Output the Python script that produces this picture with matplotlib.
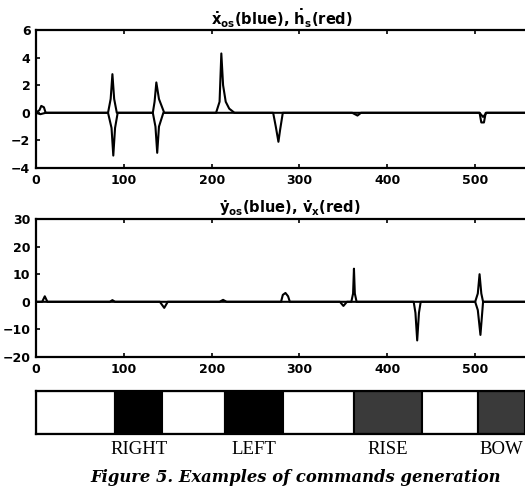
import numpy as np
import matplotlib
matplotlib.use('Agg')
import matplotlib.pyplot as plt
import matplotlib.transforms as mtransforms

# top panel: x_os dot (blue) and h_s dot (red), breakpoints
t_xos = [0, 4, 6, 9, 11, 82, 85, 87, 89, 92, 133, 135, 137, 140, 146, 205, 209, 211, 213, 216, 220, 226,
         360, 366, 370, 505, 507, 510, 512, 600]
xos = [0, 0.2, 0.5, 0.4, 0, 0, 1.0, 2.8, 1.0, 0, 0, 0.8, 2.2, 1.0, 0, 0, 0.8, 4.3, 2.0, 0.8, 0.3, 0,
       0, -0.2, 0, 0, -0.7, -0.7, 0, 0]
t_hs = [0, 5, 11, 82, 86, 88, 90, 93, 133, 136, 138, 140, 145, 270, 273, 276, 278, 281, 505, 509, 513, 600]
hs = [0, -0.1, 0, 0, -1.1, -3.1, -1.1, 0, 0, -1.0, -2.9, -1.0, 0, 0, -1.0, -2.1, -1.2, 0, 0, -0.3, 0, 0]

# bottom panel: y_os dot (blue) and v_x dot (red)
t_yos = [0, 7, 10, 13, 84, 87, 90, 141, 146, 150, 209, 213, 217, 279, 281, 284, 287, 289,
         346, 350, 354, 359, 361, 362, 363, 365, 500, 503, 505, 507, 509, 600]
yos = [0, 0, 2.0, 0, 0, 0.6, 0, 0, -2.2, 0, 0, 0.7, 0, 0, 2.5, 3.2, 2.0, 0,
       0, -1.5, 0, 0, 3, 12, 3, 0, 0, 3, 10, 3, 0, 0]
t_vx = [0, 430, 432, 434, 436, 438, 500, 503, 506, 509, 600]
vx = [0, 0, -4, -14, -4, 0, 0, -3, -12, 0, 0]

# command band
cmd_edges = [0, 90, 144, 215, 281, 362, 440, 503, 557]
cmd_names = ['', 'RIGHT', '', 'LEFT', '', 'RISE', '', 'BOW']
cmd_color = {'': 'white', 'RIGHT': 'black', 'LEFT': 'black', 'RISE': '#3a3a3a', 'BOW': '#3a3a3a'}

plt.rcParams['mathtext.fontset'] = 'dejavusans'
plt.rcParams['mathtext.default'] = 'bf'

W, H = 525, 493
fig = plt.figure(figsize=(W / 100, H / 100), dpi=100)

def box(left, top, bottom, width=527):
    # pixel box -> figure fraction
    return [left / W, 1 - bottom / H, width / W, (bottom - top) / H]

def style(ax):
    for s in ax.spines.values():
        s.set_linewidth(1.6)
    ax.tick_params(direction='in', length=3, width=1.2, top=True, right=False,
                   labelsize=9, pad=4)
    for lab in ax.get_xticklabels() + ax.get_yticklabels():
        lab.set_fontweight('bold')

ax1 = fig.add_axes(box(36, 30, 168))
ax1.plot(t_xos, xos, color='black', lw=1.5)
ax1.plot(t_hs, hs, color='black', lw=1.5)
ax1.set_xlim(0, 600)
ax1.set_ylim(-4, 6)
ax1.set_xticks([0, 100, 200, 300, 400, 500])
ax1.set_yticks([-4, -2, 0, 2, 4, 6])
style(ax1)

ax2 = fig.add_axes(box(36, 219, 357))
ax2.plot(t_yos, yos, color='black', lw=1.5)
ax2.plot(t_vx, vx, color='black', lw=1.5)
ax2.set_xlim(0, 600)
ax2.set_ylim(-20, 30)
ax2.set_xticks([0, 100, 200, 300, 400, 500])
ax2.set_yticks([-20, -10, 0, 10, 20, 30])
style(ax2)

fig.text(282 / W, 1 - 19 / H, r'$\dot{x}_{os}$(blue), $\dot{h}_s$(red)',
         ha='center', va='center', fontsize=10.5, fontweight='bold')
fig.text(290 / W, 1 - 208 / H, r'$\dot{y}_{os}$(blue), $\dot{v}_x$(red)',
         ha='center', va='center', fontsize=10.5, fontweight='bold')

ax3 = fig.add_axes(box(36, 391, 434))
starts = cmd_edges[:-1]
widths = np.diff(cmd_edges)
ax3.barh(0.5, widths, left=starts, height=1.0,
         color=[cmd_color[n] for n in cmd_names], edgecolor='black', linewidth=1.5)
ax3.set_xlim(0, 600)
ax3.set_ylim(0, 1)
ax3.set_xticks([])
ax3.set_yticks([])
for s in ax3.spines.values():
    s.set_linewidth(1.6)
trans = mtransforms.blended_transform_factory(ax3.transData, ax3.transAxes)
for a, b, name in zip(starts, cmd_edges[1:], cmd_names):
    if name:
        ax3.text((a + b) / 2, -0.36, name, transform=trans, ha='center', va='center',
                 fontsize=13.5, family='Liberation Serif', clip_on=False)

fig.text(90 / W, 1 - 478 / H, 'Figure 5. Examples of commands generation',
         ha='left', va='center', fontsize=11.8, family='DejaVu Serif',
         fontweight='bold', style='italic')

fig.savefig('out.png', dpi=100)
